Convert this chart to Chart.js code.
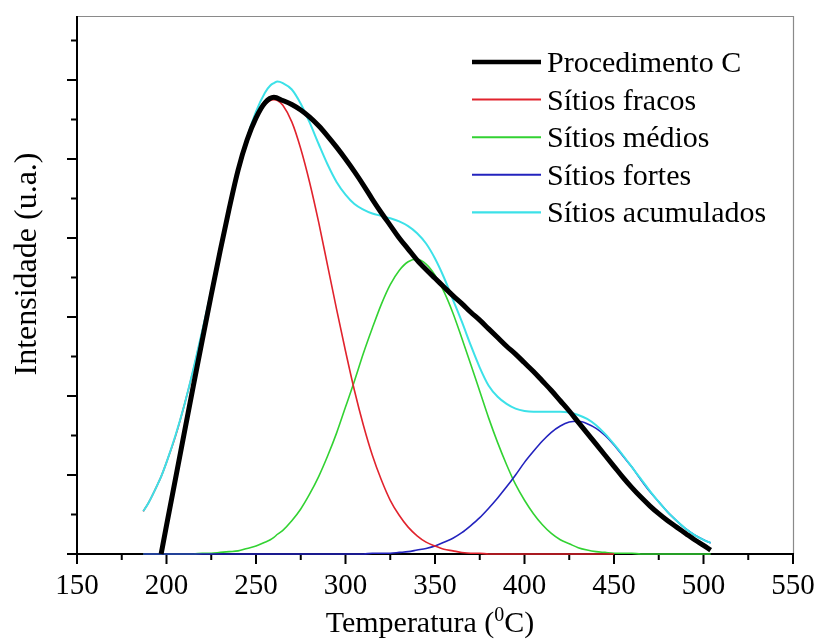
<!DOCTYPE html>
<html>
<head>
<meta charset="utf-8">
<title>Procedimento C - TPD</title>
<style>
  html, body { margin: 0; padding: 0; background: #ffffff; }
  canvas { display: block; }
</style>
<script src="https://cdn.jsdelivr.net/npm/chart.js@4.4.1/dist/chart.umd.min.js"></script>
</head>
<body>
<canvas id="grafico" width="817" height="639"></canvas>
<script>
// Temperaturas (°C) em que as curvas foram amostradas
const temperaturas = [187, 190, 195, 197, 200, 205, 210, 215, 220, 225, 230, 235, 240, 245, 250, 255, 258, 260, 262,
  265, 270, 275, 280, 285, 290, 295, 300, 305, 310, 315, 320, 325, 330, 335, 340, 345, 350, 355, 360, 365,
  370, 375, 380, 385, 390, 395, 400, 405, 410, 415, 420, 425, 430, 435, 440, 445, 450, 455, 460, 465,
  470, 475, 480, 485, 490, 495, 500, 504];

// Intensidade (u.a.) de cada curva; null = sem dado nessa temperatura
const procedimentoC = [null, null, null, 0, 0.36, 0.95, 1.54, 2.13, 2.71, 3.28, 3.84, 4.37, 4.86, 5.24, 5.52, 5.71, null, 5.78, null,
  5.74, 5.69, 5.62, 5.53, 5.42, 5.29, 5.15, 5.00, 4.84, 4.67, 4.49, 4.32, 4.16, 4.00, 3.86, 3.72, 3.60, 3.49, 3.38, 3.27, 3.17,
  3.06, 2.96, 2.85, 2.74, 2.63, 2.53, 2.42, 2.31, 2.19, 2.07, 1.94, 1.81, 1.67, 1.53, 1.39, 1.25, 1.11, 0.97, 0.84, 0.72,
  0.61, 0.51, 0.42, 0.34, 0.26, 0.18, 0.11, 0.05];

const sitiosFracos = [0.54, 0.65, 0.88, 0.98, 1.16, 1.49, 1.89, 2.33, 2.82, 3.33, 3.85, 4.35, 4.81, 5.20, 5.50, 5.69, 5.74, 5.75, 5.74,
  5.68, 5.47, 5.13, 4.70, 4.20, 3.65, 3.10, 2.57, 2.07, 1.63, 1.25, 0.94, 0.68, 0.49, 0.34, 0.23, 0.15, 0.10, 0.06, 0.04, 0.02,
  0.01, 0.01, 0, 0, 0, 0, 0, 0, 0, 0, 0, 0, 0, 0, 0, 0, 0, null, null, null,
  null, null, null, null, null, null, null, null];

const sitiosMedios = [0, 0, 0, 0, 0, 0, 0, 0, 0.01, 0.01, 0.02, 0.03, 0.04, 0.07, 0.10, 0.15, 0.18, 0.21, 0.25,
  0.30, 0.42, 0.57, 0.76, 0.98, 1.24, 1.53, 1.86, 2.19, 2.54, 2.86, 3.16, 3.41, 3.59, 3.70, 3.73, 3.67, 3.53, 3.32, 3.05, 2.73,
  2.40, 2.06, 1.72, 1.41, 1.13, 0.88, 0.68, 0.51, 0.37, 0.26, 0.18, 0.13, 0.08, 0.05, 0.03, 0.02, 0.01, 0.01, 0.01, 0,
  0, 0, 0, 0, 0, 0, 0, 0];

const sitiosFortes = [0, 0, 0, 0, 0, 0, 0, 0, 0, 0, 0, 0, 0, 0, 0, 0, 0, 0, 0,
  0, 0, 0, 0, 0, 0, 0, 0, 0, 0, 0.01, 0.01, 0.01, 0.02, 0.03, 0.05, 0.07, 0.10, 0.15, 0.20, 0.27,
  0.36, 0.46, 0.58, 0.71, 0.85, 1.00, 1.16, 1.30, 1.43, 1.54, 1.62, 1.67, 1.68, 1.65, 1.59, 1.50, 1.38, 1.24, 1.10, 0.94,
  0.79, 0.66, 0.53, 0.42, 0.32, 0.24, 0.18, 0.14];

const sitiosAcumulados = [0.54, 0.65, 0.88, 0.98, 1.16, 1.50, 1.89, 2.34, 2.83, 3.34, 3.87, 4.38, 4.85, 5.27, 5.60, 5.84, 5.93, 5.96, 5.98,
  5.96, 5.88, 5.70, 5.46, 5.19, 4.93, 4.71, 4.55, 4.43, 4.36, 4.31, 4.28, 4.25, 4.21, 4.15, 4.06, 3.93, 3.74, 3.50, 3.22, 2.94,
  2.64, 2.36, 2.13, 1.99, 1.90, 1.84, 1.81, 1.80, 1.80, 1.80, 1.80, 1.79, 1.76, 1.71, 1.63, 1.52, 1.39, 1.25, 1.10, 0.95,
  0.80, 0.66, 0.53, 0.42, 0.32, 0.24, 0.18, 0.14];

// Marcas dos eixos
const xMarcasPrincipais = [150, 200, 250, 300, 350, 400, 450, 500, 550];
const xMarcasSecundarias = [175, 225, 275, 325, 375, 425, 475, 525];
const yMarcasPrincipais = [0, 1, 2, 3, 4, 5, 6];
const yMarcasSecundarias = [0.5, 1.5, 2.5, 3.5, 4.5, 5.5, 6.5];

const FONTE = "'Liberation Serif', 'Times New Roman', serif";

function pontos(valores) {
  const out = [];
  temperaturas.forEach((t, i) => {
    if (valores[i] !== null) out.push({ x: t, y: valores[i] });
  });
  return out;
}

const series = [
  { label: 'Procedimento C', valores: procedimentoC, cor: '#000000', largura: 5, legendaLargura: 4.5, ordem: 0 },
  { label: 'Sítios fracos', valores: sitiosFracos, cor: 'rgb(225,35,45)', largura: 1.6, legendaLargura: 2, ordem: 2 },
  { label: 'Sítios médios', valores: sitiosMedios, cor: 'rgb(50,210,50)', largura: 1.6, legendaLargura: 2, ordem: 4 },
  { label: 'Sítios fortes', valores: sitiosFortes, cor: 'rgb(35,35,190)', largura: 1.6, legendaLargura: 2, ordem: 3 },
  { label: 'Sítios acumulados', valores: sitiosAcumulados, cor: 'rgb(60,225,232)', largura: 2, legendaLargura: 2.2, ordem: 1 }
];

// Moldura, marcas dos eixos, títulos e legenda
const decoracao = {
  id: 'decoracao',
  beforeDatasetsDraw(chart) {
    const { ctx, chartArea: a, scales: { x, y } } = chart;
    ctx.save();
    ctx.lineCap = 'butt';
    // topo e lado direito em cinza
    ctx.strokeStyle = '#8a8a8a';
    ctx.lineWidth = 1.2;
    ctx.beginPath();
    ctx.moveTo(a.left, a.top + 0.5);
    ctx.lineTo(a.right + 0.5, a.top + 0.5);
    ctx.lineTo(a.right + 0.5, a.bottom);
    ctx.stroke();
    // eixos esquerdo e inferior
    ctx.strokeStyle = '#000';
    ctx.lineWidth = 2;
    ctx.beginPath();
    ctx.moveTo(a.left, a.top);
    ctx.lineTo(a.left, a.bottom);
    ctx.lineTo(a.right + 1, a.bottom);
    ctx.stroke();
    // marcas do eixo x (para fora)
    ctx.beginPath();
    xMarcasPrincipais.forEach(v => {
      const px = x.getPixelForValue(v);
      ctx.moveTo(px, a.bottom); ctx.lineTo(px, a.bottom + 10);
    });
    xMarcasSecundarias.forEach(v => {
      const px = x.getPixelForValue(v);
      ctx.moveTo(px, a.bottom); ctx.lineTo(px, a.bottom + 6);
    });
    // marcas do eixo y (para fora)
    yMarcasPrincipais.forEach(v => {
      const py = y.getPixelForValue(v);
      ctx.moveTo(a.left, py); ctx.lineTo(a.left - 10, py);
    });
    yMarcasSecundarias.forEach(v => {
      const py = y.getPixelForValue(v);
      ctx.moveTo(a.left, py); ctx.lineTo(a.left - 6, py);
    });
    ctx.stroke();
    ctx.restore();
  },
  afterDraw(chart) {
    const { ctx } = chart;
    ctx.save();
    ctx.fillStyle = '#000';

    // título do eixo x com expoente
    const tam = 30, tamSup = 20;
    const parte1 = 'Temperatura (', sup = '0', parte2 = 'C)';
    ctx.font = tam + 'px ' + FONTE;
    const w1 = ctx.measureText(parte1).width;
    const w3 = ctx.measureText(parte2).width;
    ctx.font = tamSup + 'px ' + FONTE;
    const w2 = ctx.measureText(sup).width;
    const total = w1 + w2 + w3;
    const xi = 430 - total / 2;
    const base = 632;
    ctx.textBaseline = 'alphabetic';
    ctx.textAlign = 'left';
    ctx.font = tam + 'px ' + FONTE;
    ctx.fillText(parte1, xi, base);
    ctx.font = tamSup + 'px ' + FONTE;
    ctx.fillText(sup, xi + w1, base - 11);
    ctx.font = tam + 'px ' + FONTE;
    ctx.fillText(parte2, xi + w1 + w2, base);

    // título do eixo y
    ctx.save();
    ctx.translate(36, 264);
    ctx.rotate(-Math.PI / 2);
    ctx.textAlign = 'center';
    ctx.textBaseline = 'alphabetic';
    ctx.font = '32px ' + FONTE;
    ctx.fillText('Intensidade (u.a.)', 0, 0);
    ctx.restore();

    // legenda
    const y0 = 62, passo = 37.6, xl0 = 472, xl1 = 541, xt = 547;
    ctx.font = '30px ' + FONTE;
    ctx.textAlign = 'left';
    ctx.textBaseline = 'alphabetic';
    chart.data.datasets.forEach((ds, i) => {
      const yy = y0 + i * passo;
      ctx.strokeStyle = ds.borderColor;
      ctx.lineWidth = ds.legendaLargura;
      ctx.beginPath();
      ctx.moveTo(xl0, yy); ctx.lineTo(xl1, yy);
      ctx.stroke();
      ctx.fillStyle = '#000';
      ctx.fillText(ds.label, xt, yy + 10);
    });
    ctx.restore();
  }
};

new Chart(document.getElementById('grafico'), {
  type: 'line',
  data: {
    datasets: series.map(s => ({
      label: s.label,
      data: pontos(s.valores),
      borderColor: s.cor,
      backgroundColor: s.cor,
      borderWidth: s.largura,
      legendaLargura: s.legendaLargura,
      pointRadius: 0,
      fill: false,
      cubicInterpolationMode: 'monotone',
      clip: 6,
      order: s.ordem
    }))
  },
  options: {
    responsive: false,
    animation: false,
    devicePixelRatio: 1,
    layout: { padding: { left: 77, right: 24, top: 16, bottom: 20.2 } },
    plugins: { legend: { display: false }, tooltip: { enabled: false } },
    scales: {
      x: {
        type: 'linear',
        min: 150,
        max: 550,
        grid: { display: false, drawTicks: false },
        border: { display: false },
        afterFit(escala) {
          // a margem da figura já comporta o rótulo "550"
          escala.paddingLeft = 0;
          escala.paddingRight = 0;
        },
        ticks: {
          stepSize: 50,
          padding: 15,
          color: '#000',
          font: { family: FONTE, size: 29 },
          maxRotation: 0
        }
      },
      y: {
        display: false,
        min: 0,
        max: 6.81,
        ticks: { includeBounds: false }
      }
    }
  },
  plugins: [decoracao]
});
</script>
</body>
</html>
